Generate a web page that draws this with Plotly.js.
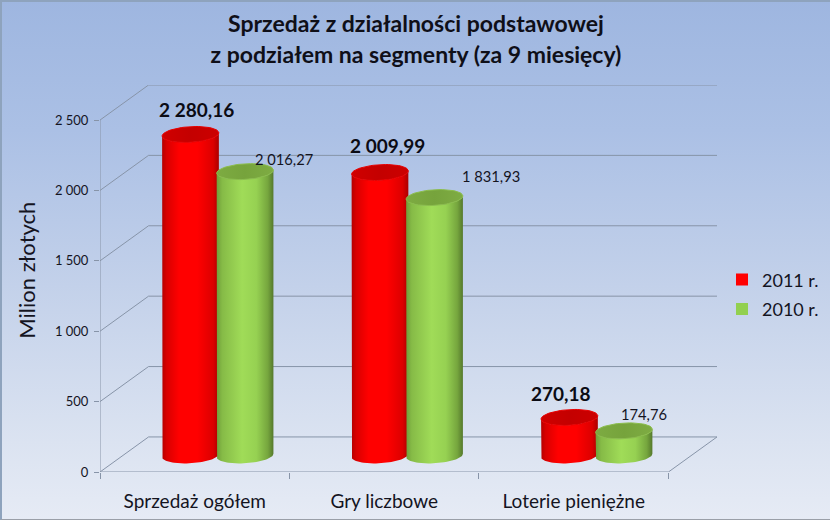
<!DOCTYPE html>
<html><head><meta charset="utf-8">
<script src="https://cdn.plot.ly/plotly-3.0.1.min.js"></script>
<style>
html,body{margin:0;padding:0;width:830px;height:520px;overflow:hidden}
#chart{width:830px;height:520px;box-sizing:border-box;
background:linear-gradient(180deg,#9eb6e0 0%,#abc0e5 25%,#c3d1ea 55%,#dbe3f1 85%,#e6ebf5 100%)}
#frame{position:absolute;left:0;top:0;width:830px;height:520px;box-sizing:border-box;pointer-events:none;
border-top:2px solid #8ea3bd;border-left:2px solid #8ea3bd;border-bottom:1px solid #9a9fa8}
</style></head><body>
<div id="chart"></div><div id="frame"></div>
<script>
var categories = ['Sprzedaż ogółem', 'Gry liczbowe', 'Loterie pieniężne'];
var seriesNames = ['2011 r.', '2010 r.'];
var values2011 = [2280.16, 2009.99, 270.18];
var values2010 = [2016.27, 1831.93, 174.76];
var labels2011 = ['2 280,16', '2 009,99', '270,18'];
var labels2010 = ['2 016,27', '1 831,93', '174,76'];
var yTicks = [0, 500, 1000, 1500, 2000, 2500];
var yTickText = ['0', '500', '1 000', '1 500', '2 000', '2 500'];

// plot geometry (pixels)
var L = 100, R = 717, T = 85, B = 472.5;
var pxX = 189.3, pxY = 0.1406;          // px per category, px per unit
var wallDX = 48.5 / pxX, wallDY = 35 / pxY;
var xMin = -0.5, xMax = 2.5 + wallDX, yMax = 2500 + wallDY;

var RX = 28.4, RY = 7.8, ROT = -3.5 * Math.PI / 180;
var baseDX = 23, baseDY = 16.5, serOff = 27.25;

function ellipsePt(cx, cy, t) {   // cx, cy data; offset computed in px
  var ex = RX * Math.cos(t), ey = RY * Math.sin(t);
  var px = ex * Math.cos(ROT) - ey * Math.sin(ROT);
  var py = ex * Math.sin(ROT) + ey * Math.cos(ROT);
  return [cx + px / pxX, cy - py / pxY];
}
function arc(cx, cy, t0, t1, n) {
  var out = [];
  for (var i = 0; i <= n; i++) out.push(ellipsePt(cx, cy, t0 + (t1 - t0) * i / n));
  return out;
}
function fillTrace(pts, colors, line) {
  var xs = pts.map(function (p) { return p[0]; }), ys = pts.map(function (p) { return p[1]; });
  return { type: 'scatter', mode: 'lines', x: xs, y: ys, fill: 'toself', hoverinfo: 'skip', showlegend: false,
    line: { color: line, width: line === 'rgba(0,0,0,0)' ? 0 : 1 },
    fillcolor: colors[0][1],
    fillgradient: { type: 'horizontal', colorscale: colors } };
}
var redBody = [[0,'#b50000'],[0.08,'#d80000'],[0.3,'#ff0000'],[0.62,'#ff0000'],[0.9,'#dc0000'],[1,'#ab0000']];
var redCap = [[0,'#d00000'],[0.5,'#c40000'],[1,'#cc0000']];
var greenBody = [[0,'#6f9f3a'],[0.1,'#86bb47'],[0.45,'#a0dc58'],[0.7,'#96d152'],[0.9,'#76a63e'],[1,'#55792c']];
var greenCap = [[0,'#7dab42'],[0.5,'#76a33c'],[1,'#7eac43']];

var traces = [];
// walls and floor
var gx = [], gy = [];
yTicks.forEach(function (v) {
  gx.push(xMin, xMin + wallDX, xMax, null);
  gy.push(v, v + wallDY, v + wallDY, null);
});
gx.push(xMin, xMin, null, xMin, 2.5, xMax);
gy.push(0, 2500, null, 0, 0, wallDY);
traces.push({ type: 'scatter', mode: 'lines', x: gx, y: gy, cliponaxis: false, hoverinfo: 'skip', showlegend: false,
  line: { color: '#8794a8', width: 1 } });

function cylinder(i, val, off, bodyC, capC, rim) {
  var cx = i + (baseDX + off) / pxX;
  var by = baseDY / pxY;
  var ty = by + val;
  var pts = [ellipsePt(cx, ty, Math.PI)].concat(arc(cx, by, Math.PI, 0, 40), [ellipsePt(cx, ty, 0)], arc(cx, ty, 0, Math.PI, 30));
  traces.push(fillTrace(pts, bodyC, 'rgba(0,0,0,0)'));
  traces.push(fillTrace(arc(cx, ty, 0, 2 * Math.PI, 60), capC, rim));
}
[0, 1, 2].forEach(function (i) {
  cylinder(i, values2011[i], -serOff, redBody, redCap, '#e80000');
  cylinder(i, values2010[i], serOff, greenBody, greenCap, '#8bbd4b');
});
// legend entries
traces.push({ type: 'scatter', mode: 'markers', name: seriesNames[0], x: [null], y: [null], legendgroup: 'a',
  marker: { symbol: 'square', size: 12, color: '#ff0000' } });
traces.push({ type: 'scatter', mode: 'markers', name: seriesNames[1], x: [null], y: [null], legendgroup: 'b',
  marker: { symbol: 'square', size: 12, color: '#92d050' } });

// data labels: pixel offsets from the top of each cylinder
var shift2011 = [[6, 25], [8, 27], [-8, 24]];
var shift2010 = [[39, 13], [56, 22], [20, 17]];
var annotations = [];
[0, 1, 2].forEach(function (i) {
  annotations.push({ x: i + (baseDX - serOff) / pxX, y: values2011[i] + baseDY / pxY, xref: 'x', yref: 'y', text: '<b>' + labels2011[i] + '</b>',
    showarrow: false, xanchor: 'center', yanchor: 'middle', xshift: shift2011[i][0], yshift: shift2011[i][1], font: { family: 'Lato', size: 19, color: '#0b0b14' } });
  annotations.push({ x: i + (baseDX + serOff) / pxX, y: values2010[i] + baseDY / pxY, xref: 'x', yref: 'y', text: labels2010[i],
    showarrow: false, xanchor: 'center', yanchor: 'middle', xshift: shift2010[i][0], yshift: shift2010[i][1], font: { family: 'Lato', size: 14.7, color: '#14141f' } });
});
annotations.push({ xref: 'paper', yref: 'paper', x: (27 - L) / (R - L), y: (B - 271) / (B - T), xanchor: 'center', yanchor: 'middle', text: 'Milion złotych', textangle: -90,
  showarrow: false, font: { family: 'Lato', size: 22, color: '#14141f' } });

var layout = {
  width: 830, height: 520, autosize: false,
  paper_bgcolor: 'rgba(0,0,0,0)', plot_bgcolor: 'rgba(0,0,0,0)',
  margin: { l: L, r: 830 - R, t: T, b: 520 - B, pad: 0 },
  font: { family: 'Lato', color: '#14141f' },
  title: { text: '<b><span style="font-size:23px">Sprzedaż z działalności podstawowej<br>z podziałem na segmenty (za 9 miesięcy)</span></b>',
    font: { family: 'Lato', size: 23.5, color: '#0f0f18' }, x: 416 / 830, xanchor: 'center', y: 1 - 32 / 520, yanchor: 'middle' },
  xaxis: { range: [xMin, xMax], tickmode: 'array', tickvals: [0, 1, 2], ticktext: categories, ticks: '', showgrid: false, zeroline: false, showline: false,
    tickfont: { family: 'Lato', size: 19, color: '#14141f' }, ticklabelstandoff: 16,
    minor: { tickmode: 'array', tickvals: [-0.5, 0.5, 1.5, 2.5], ticks: 'outside', ticklen: 6, tickcolor: '#8794a8', tickwidth: 1, showgrid: false } },
  yaxis: { range: [0, yMax], tickmode: 'array', tickvals: yTicks, ticktext: yTickText, ticks: 'outside', ticklen: 5, tickcolor: '#8794a8', showgrid: false, zeroline: false, showline: false,
    tickfont: { family: 'Lato', size: 13, color: '#14141f' }, ticklabelstandoff: 3 },
  showlegend: true,
  legend: { x: 722 / 830, xref: 'container', y: 1 - 237 / 520, yanchor: 'top', xanchor: 'left', bgcolor: 'rgba(0,0,0,0)', traceorder: 'grouped', tracegroupgap: 3, itemwidth: 30,
    font: { family: 'Lato', size: 18, color: '#14141f' } },
  annotations: annotations,
  hovermode: false
};
Plotly.newPlot('chart', traces, layout, { displayModeBar: false, staticPlot: true });
</script></body></html>
